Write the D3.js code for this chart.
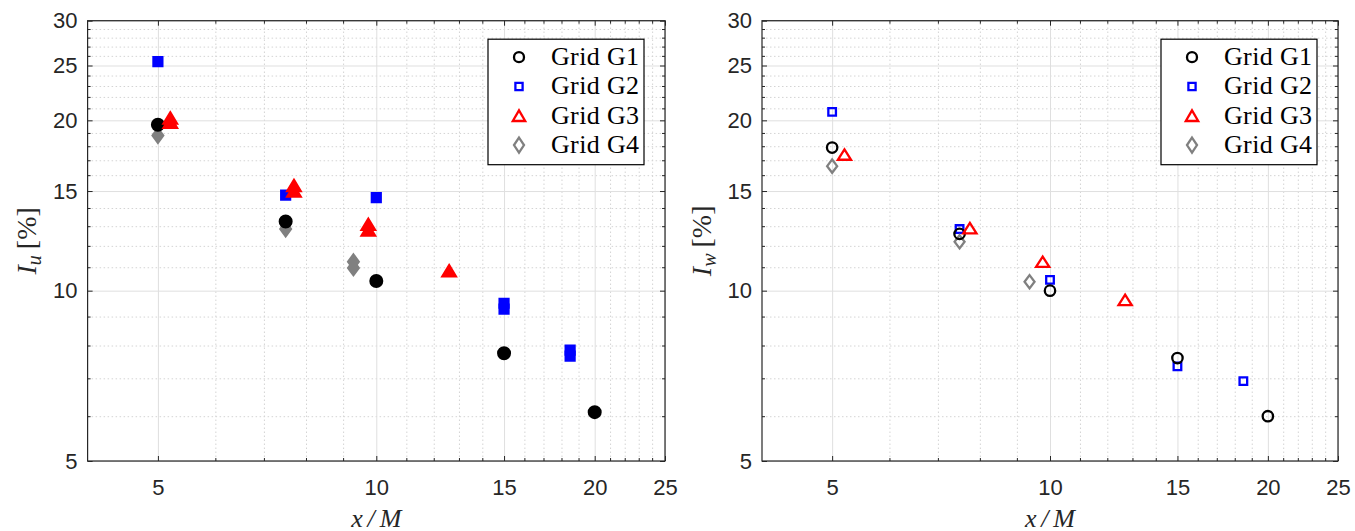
<!DOCTYPE html>
<html>
<head>
<meta charset="utf-8">
<script src="https://cdn.jsdelivr.net/npm/d3@7"></script>
<style>
  body { margin: 0; background: #fff; }
  svg { display: block; }
</style>
</head>
<body>
<div id="chart"></div>
<script>
// axis ticks
const xMajor = [5, 10, 15, 20, 25];
const yMajor = [5, 10, 15, 20, 25, 30];
const xMinor = [6, 7, 8, 9, 11, 12, 13, 14, 16, 17, 18, 19, 21, 22, 23, 24];
const yMinor = [6, 7, 8, 9, 11, 12, 13, 14, 16, 17, 18, 19, 21, 22, 23, 24, 26, 27, 28, 29];
const seriesNames = ["Grid G1", "Grid G2", "Grid G3", "Grid G4"];

// left panel: I_u (filled markers)
const iuG1x = [5, 7.5, 10, 15, 20];
const iuG1y = [19.65, 13.25, 10.4, 7.75, 6.1];
const iuG2x = [5, 7.5, 10, 15, 15, 18.5, 18.5];
const iuG2y = [25.4, 14.75, 14.6, 9.5, 9.28, 7.85, 7.66];
const iuG3x = [5.2, 5.2, 7.7, 7.7, 9.75, 9.75, 12.6];
const iuG3y = [20.2, 19.85, 15.35, 15.0, 13.1, 12.8, 10.85];
const iuG4x = [5, 7.5, 9.3, 9.3];
const iuG4y = [18.8, 12.85, 11.25, 10.97];

// right panel: I_w (open markers)
const iwG1x = [5, 7.5, 10, 15, 20];
const iwG1y = [17.9, 12.6, 10.0, 7.6, 6.0];
const iwG2x = [5, 7.5, 10, 15, 18.5];
const iwG2y = [20.7, 12.85, 10.45, 7.35, 6.92];
const iwG3x = [5.2, 7.75, 9.77, 12.7];
const iwG3y = [17.4, 12.9, 11.25, 9.63];
const iwG4x = [5, 7.5, 9.37];
const iwG4y = [16.6, 12.2, 10.37];

const colors = ["#000000", "#0000ff", "#ff0000", "#808080"];
const shapes = ["circle", "square", "triangle", "diamond"];

const width = 1355, height = 531;
const svg = d3.select("#chart").append("svg")
    .attr("width", width)
    .attr("height", height);

const axisColor = "#262626";

const markerPath = function (kind, big) {
    const p = d3.path();
    if (kind === "circle") {
        const r = big ? 6 : 5.2;
        p.arc(0, 0, r, 0, 2 * Math.PI);
    } else if (kind === "square") {
        const h = big ? 4.6 : 3.8;
        p.rect(-h, -h, 2 * h, 2 * h);
    } else if (kind === "triangle") {
        const hw = big ? 7 : 6.6, hh = big ? 5.8 : 5.2;
        p.moveTo(0, -hh); p.lineTo(hw, hh); p.lineTo(-hw, hh); p.closePath();
    } else {
        const dw = big ? 5.5 : 5, dh = big ? 7.5 : 6.6;
        p.moveTo(0, -dh); p.lineTo(dw, 0); p.lineTo(0, dh); p.lineTo(-dw, 0); p.closePath();
    }
    return p.toString();
}

const legendPath = function (kind) {
    const p = d3.path();
    if (kind === "circle") p.arc(0, 0, 5, 0, 2 * Math.PI);
    else if (kind === "square") p.rect(-3.6, -3.6, 7.2, 7.2);
    else if (kind === "triangle") { p.moveTo(0, -5.5); p.lineTo(6.2, 5.2); p.lineTo(-6.2, 5.2); p.closePath(); }
    else { p.moveTo(0, -7.5); p.lineTo(5, 0); p.lineTo(0, 7.5); p.lineTo(-5, 0); p.closePath(); }
    return p.toString();
}

const drawPanel = function (left, right, series, filled, sub) {
    const top = 20.7, bottom = 461;
    const x = d3.scaleLog().domain([4, 25]).range([left, right]);
    const y = d3.scaleLog().domain([5, 30]).range([bottom, top]);
    const g = svg.append("g");

    // minor grid (dotted)
    g.append("g")
        .attr("transform", `translate(0,${bottom})`)
        .call(d3.axisBottom(x).tickValues(xMinor).tickSize(-(bottom - top)).tickFormat(""))
        .call(a => a.select(".domain").remove())
        .call(a => a.selectAll("line").attr("stroke", "#d4d4d4").attr("stroke-dasharray", "1.5,2.5"));
    g.append("g")
        .attr("transform", `translate(${left},0)`)
        .call(d3.axisLeft(y).tickValues(yMinor).tickSize(-(right - left)).tickFormat(""))
        .call(a => a.select(".domain").remove())
        .call(a => a.selectAll("line").attr("stroke", "#d4d4d4").attr("stroke-dasharray", "1.5,2.5"));

    // major grid
    g.append("g")
        .attr("transform", `translate(0,${bottom})`)
        .call(d3.axisBottom(x).tickValues(xMajor).tickSize(-(bottom - top)).tickFormat(""))
        .call(a => a.select(".domain").remove())
        .call(a => a.selectAll("line").attr("stroke", "#dfdfdf"));
    g.append("g")
        .attr("transform", `translate(${left},0)`)
        .call(d3.axisLeft(y).tickValues(yMajor).tickSize(-(right - left)).tickFormat(""))
        .call(a => a.select(".domain").remove())
        .call(a => a.selectAll("line").attr("stroke", "#dfdfdf"));

    // inner ticks on all four sides
    const tickAxes = [
        [d3.axisBottom, `translate(0,${bottom})`, x, xMajor, xMinor],
        [d3.axisTop, `translate(0,${top})`, x, xMajor, xMinor],
        [d3.axisLeft, `translate(${left},0)`, y, yMajor, yMinor],
        [d3.axisRight, `translate(${right},0)`, y, yMajor, yMinor]
    ];
    tickAxes.forEach(([ax, tr, sc, maj, min]) => {
        g.append("g").attr("transform", tr)
            .call(ax(sc).tickValues(maj).tickSize(-5).tickFormat(""))
            .call(a => a.select(".domain").remove())
            .call(a => a.selectAll("line").attr("stroke", axisColor));
        g.append("g").attr("transform", tr)
            .call(ax(sc).tickValues(min).tickSize(-3).tickFormat(""))
            .call(a => a.select(".domain").remove())
            .call(a => a.selectAll("line").attr("stroke", axisColor));
    });

    // tick labels
    g.append("g")
        .attr("transform", `translate(0,${bottom})`)
        .call(d3.axisBottom(x).tickValues(xMajor).tickSize(0).tickPadding(18.5).tickFormat(d3.format("d")))
        .call(a => a.select(".domain").remove())
        .call(a => a.selectAll("text").attr("fill", axisColor)
            .attr("font-family", "'Liberation Sans', Arial, sans-serif").attr("font-size", 22));
    g.append("g")
        .attr("transform", `translate(${left},0)`)
        .call(d3.axisLeft(y).tickValues(yMajor).tickSize(0).tickPadding(10).tickFormat(d3.format("d")))
        .call(a => a.select(".domain").remove())
        .call(a => a.selectAll("text").attr("fill", axisColor)
            .attr("font-family", "'Liberation Sans', Arial, sans-serif").attr("font-size", 22));

    // box
    g.append("rect")
        .attr("x", left).attr("y", top)
        .attr("width", right - left).attr("height", bottom - top)
        .attr("fill", "none").attr("stroke", axisColor).attr("stroke-width", 1.2);

    // markers (draw order G2, G4, G1, G3)
    [1, 3, 0, 2].forEach(i => {
        const s = series[i];
        const pts = s.x.map((v, k) => ({ x: v, y: s.y[k] }));
        g.append("g").selectAll("path")
            .data(pts)
            .join("path")
            .attr("transform", d => `translate(${x(d.x)},${y(d.y)})`)
            .attr("d", markerPath(shapes[i], filled))
            .attr("fill", filled ? colors[i] : "none")
            .attr("stroke", colors[i])
            .attr("stroke-width", filled ? 2 : 2.3);
    });

    // legend
    const lx = right - 177, ly = top + 18.5;
    const leg = g.append("g").attr("transform", `translate(${lx},${ly})`);
    leg.append("rect")
        .attr("width", 156).attr("height", 125.5)
        .attr("fill", "#fff").attr("stroke", "#000").attr("stroke-width", 1.2);
    seriesNames.forEach((name, i) => {
        const cy = 18 + i * 29.3;
        leg.append("path")
            .attr("transform", `translate(31,${cy})`)
            .attr("d", legendPath(shapes[i]))
            .attr("fill", "none").attr("stroke", colors[i]).attr("stroke-width", 2.3);
        leg.append("text")
            .attr("x", 63).attr("y", cy + 8)
            .attr("font-family", "'Liberation Serif', 'Times New Roman', serif")
            .attr("font-size", 26).attr("fill", "#000")
            .attr("textLength", 88).attr("lengthAdjust", "spacing")
            .text(name);
    });

    // x label
    g.append("text")
        .attr("x", (left + right) / 2).attr("y", 526.5)
        .attr("text-anchor", "middle")
        .attr("font-family", "'Liberation Serif', 'Times New Roman', serif")
        .attr("font-style", "italic").attr("font-size", 26).attr("fill", axisColor)
        .attr("textLength", 50).attr("lengthAdjust", "spacing")
        .text("x/M");

    // y label
    const yl = g.append("text")
        .attr("transform", `translate(${left - 51.5},${(top + bottom) / 2}) rotate(-90)`)
        .attr("text-anchor", "middle")
        .attr("font-family", "'Liberation Serif', 'Times New Roman', serif")
        .attr("font-size", 28).attr("fill", axisColor);
    yl.append("tspan").attr("font-style", "italic").text("I");
    yl.append("tspan").attr("font-style", "italic").attr("font-size", 20).attr("dy", 5).text(sub);
    yl.append("tspan").attr("dy", -5).attr("dx", 6).text("[%]");
}

drawPanel(87.6, 665, [
    { x: iuG1x, y: iuG1y }, { x: iuG2x, y: iuG2y },
    { x: iuG3x, y: iuG3y }, { x: iuG4x, y: iuG4y }
], true, "u");

drawPanel(762, 1338, [
    { x: iwG1x, y: iwG1y }, { x: iwG2x, y: iwG2y },
    { x: iwG3x, y: iwG3y }, { x: iwG4x, y: iwG4y }
], false, "w");
</script>
</body>
</html>
